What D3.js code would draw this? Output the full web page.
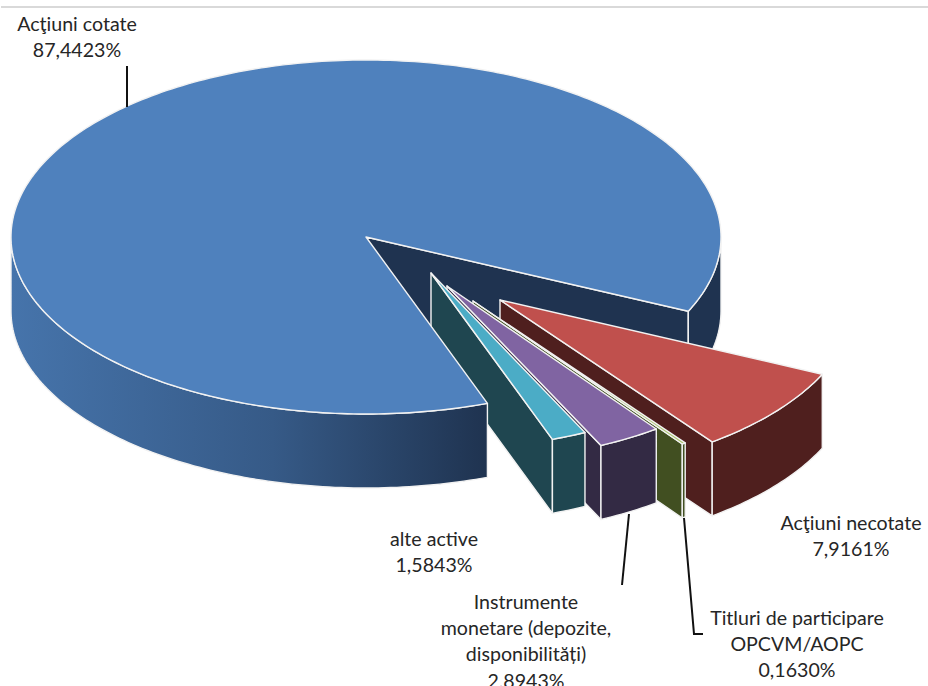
<!DOCTYPE html>
<html>
<head>
<meta charset="utf-8">
<title>Structura activelor</title>
<script src="https://cdn.jsdelivr.net/npm/d3@7/dist/d3.min.js"></script>
<style>
    html, body { margin: 0; padding: 0; background: #fff; overflow: hidden; }
    svg { display: block; }
    text { font-family: Lato, "Open Sans", sans-serif; font-size: 19.6px; fill: #262626; text-anchor: middle; }
    .leader { fill: none; stroke: #111; stroke-width: 2; }
    .slice { stroke: #f2f2f2; stroke-width: 1.4; stroke-linejoin: round; }
</style>
</head>
<body>
<svg id="chart" width="928" height="686"></svg>
<script>
// values, clockwise from the start of the big slice
var categories = ['Acţiuni cotate', 'Acţiuni necotate', 'Titluri de participare OPCVM/AOPC',
    'Instrumente monetare (depozite, disponibilități)', 'alte active'];
var shares = [87.4423, 7.9161, 0.1630, 2.8943, 1.5843];
var shareLabels = ['87,4423%', '7,9161%', '0,1630%', '2,8943%', '1,5843%'];

// drawing setup, the disc is seen from above so the y radius is squashed
var DEG = Math.PI / 180;
var START_ANGLE = 160 * DEG;
var DEPTH = 74;
var x = d3.scaleLinear().domain([-1, 1]).range([11, 721]);
var y = d3.scaleLinear().domain([-1, 1]).range([60, 414]);
var exploded = [[0, 0], [134, 63], [107, 64], [81, 49], [65, 36]];
var topColors = ['#4f81bd', '#c0504d', '#a9c46c', '#8064a2', '#4bacc6'];
var wallColors = ['#1f3350', '#4f1f1e', '#414f21', '#332a44', '#1f4650'];

var svg = d3.select('#chart');
var line = d3.line();

var gradient = svg.append('defs').append('linearGradient')
    .attr('id', 'frontWall')
    .attr('gradientUnits', 'userSpaceOnUse')
    .attr('x1', x(-1)).attr('x2', 487).attr('y1', 0).attr('y2', 0);
gradient.append('stop').attr('offset', 0).attr('stop-color', '#4674ab');
gradient.append('stop').attr('offset', 0.55).attr('stop-color', '#365a87');
gradient.append('stop').attr('offset', 1).attr('stop-color', '#1f3350');

var arcs = d3.pie().sort(null)
    .startAngle(START_ANGLE)
    .endAngle(START_ANGLE + 2 * Math.PI)(shares);

/**
 * @param {number} i - slice index
 * @param {number} angle - clockwise from north, radians
 * @param {number} r - 0 is the apex, 1 is the rim
 * @param {number} drop - pixels below the top face
 * @returns {number[]} - screen point
 */
function point(i, angle, r, drop) {
    return [
        x(r * Math.sin(angle)) + exploded[i][0],
        y(-r * Math.cos(angle)) + exploded[i][1] + drop
    ];
}

function rim(i, from, to, drop) {
    var steps = Math.max(2, Math.ceil((to - from) / DEG));
    return d3.range(steps + 1).map(function (k) {
        return point(i, from + (to - from) * k / steps, 1, drop);
    });
}

function addPath(points, fill) {
    svg.append('path')
        .attr('class', 'slice')
        .attr('d', line(points) + 'Z')
        .attr('fill', fill);
}

function drawTop(i) {
    var a = arcs[i];
    addPath([point(i, 0, 0, 0)].concat(rim(i, a.startAngle, a.endAngle, 0)), topColors[i]);
}

function drawCutWall(i, angle) {
    addPath([
        point(i, 0, 0, 0), point(i, angle, 1, 0),
        point(i, angle, 1, DEPTH), point(i, 0, 0, DEPTH)
    ], wallColors[i]);
}

function drawRimWall(i, from, to, fill) {
    addPath(rim(i, from, to, 0).concat(rim(i, from, to, DEPTH).reverse()), fill);
}

// back of the big slice goes first, the cut-out shows it
var bigEnd = arcs[0].endAngle;
drawCutWall(0, bigEnd);
drawRimWall(0, 450 * DEG, bigEnd, wallColors[0]);

// the pulled out slices, the ones further back first
[1, 2, 3, 4].forEach(function (i) {
    drawCutWall(i, arcs[i].endAngle);
    drawRimWall(i, arcs[i].startAngle, arcs[i].endAngle, wallColors[i]);
    drawTop(i);
});

// front of the big slice hides the start of the small cut walls
drawRimWall(0, arcs[0].startAngle, 270 * DEG, 'url(#frontWall)');
drawTop(0);

// frame line and leaders
svg.append('line')
    .attr('x1', 1).attr('x2', 928).attr('y1', 7).attr('y2', 7)
    .attr('stroke', '#d9d9d9').attr('stroke-width', 2);
[
    [[127, 66], [127, 107]],
    [[629, 514], [622, 585]],
    [[684, 518], [694, 634], [703, 634]]
].forEach(function (points) {
    svg.append('path').attr('class', 'leader').attr('d', line(points));
});

// labels, one text row per line
var labels = [
    { i: 0, x: 77, y: 31, rows: ['Acţiuni cotate'] },
    { i: 1, x: 851, y: 530, rows: ['Acţiuni necotate'] },
    { i: 2, x: 797, y: 625, rows: ['Titluri de participare', 'OPCVM/AOPC'] },
    { i: 3, x: 526, y: 609, rows: ['Instrumente', 'monetare (depozite,', 'disponibilități)'] },
    { i: 4, x: 434, y: 546, rows: ['alte active'] }
];
labels.forEach(function (label) {
    label.rows.concat(shareLabels[label.i]).forEach(function (row, k) {
        svg.append('text')
            .attr('x', label.x)
            .attr('y', label.y + k * 26.2)
            .text(row);
    });
});
</script>
</body>
</html>
